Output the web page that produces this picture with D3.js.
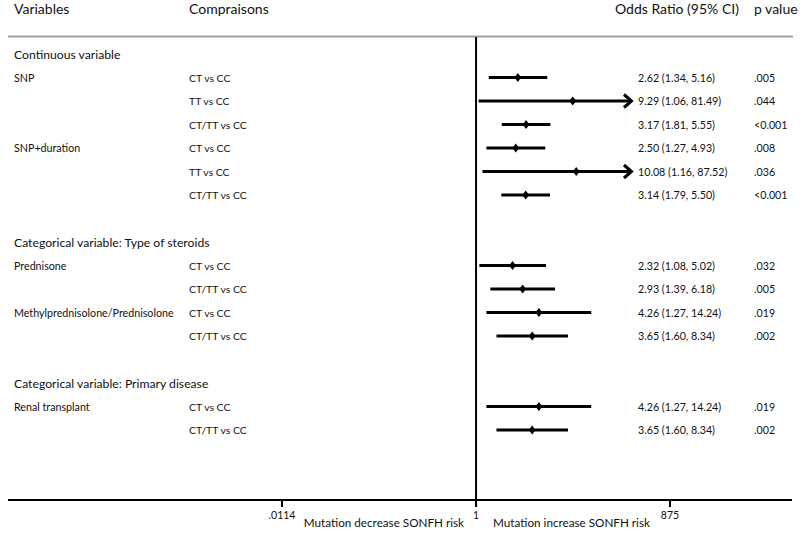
<!DOCTYPE html>
<html>
<head>
<meta charset="utf-8">
<script src="https://cdn.jsdelivr.net/npm/d3@7"></script>
<style>
  html, body { margin: 0; padding: 0; background: #fff; }
  svg { display: block; font-family: Lato, "Open Sans", sans-serif; }
</style>
</head>
<body>
<svg id="chart" width="800" height="533"></svg>
<script>
// ---------------- data ----------------
const sectionTitles = ["Continuous variable", "Categorical variable: Type of steroids", "Categorical variable: Primary disease"];
const sectionSizes = [6, 4, 2];
const variables = ["SNP", "", "", "SNP+duration", "", "", "Prednisone", "", "Methylprednisolone/Prednisolone", "", "Renal transplant", ""];
const comparisons = ["CT vs CC", "TT vs CC", "CT/TT vs CC", "CT vs CC", "TT vs CC", "CT/TT vs CC", "CT vs CC", "CT/TT vs CC", "CT vs CC", "CT/TT vs CC", "CT vs CC", "CT/TT vs CC"];
const oddsRatio = [2.62, 9.29, 3.17, 2.50, 10.08, 3.14, 2.32, 2.93, 4.26, 3.65, 4.26, 3.65];
const ciLow = [1.34, 1.06, 1.81, 1.27, 1.16, 1.79, 1.08, 1.39, 1.27, 1.60, 1.27, 1.60];
const ciHigh = [5.16, 81.49, 5.55, 4.93, 87.52, 5.50, 5.02, 6.18, 14.24, 8.34, 14.24, 8.34];
const pValues = [".005", ".044", "<0.001", ".008", ".036", "<0.001", ".032", ".005", ".019", ".002", ".019", ".002"];
const tickValues = [0.0114, 1, 87.52];
const tickLabels = [".0114", "1", "875"];
const headers = ["Variables", "Compraisons", "Odds Ratio (95% CI)", "p value"];
const axisNotes = ["Mutation decrease SONFH risk", "Mutation increase SONFH risk"];
const arrowCap = 36; // CI drawn as arrow beyond this value

// ---------------- layout ----------------
const svg = d3.select("#chart");
const x = d3.scaleLog().domain([0.0114, 87.52]).range([282, 670]);
const slotY = d3.scaleLinear().domain([0, 1]).range([54, 77.5]);
const axisY = 500;
const colX = { variable: 14, comparison: 189, or: 638, p: 754 };

// assign slots: section title, its rows, then one blank slot
const sectionSlots = [];
const rowSlots = [];
let slot = 0;
sectionSizes.forEach((n) => {
  sectionSlots.push(slot); slot++;
  for (let i = 0; i < n; i++) { rowSlots.push(slot); slot++; }
  slot++;
});

const rows = oddsRatio.map((d, i) => ({
  v: variables[i], c: comparisons[i], or: d, lo: ciLow[i], hi: ciHigh[i], p: pValues[i], y: slotY(rowSlots[i])
}));

// headers
const hx = [14, 189, 615, 754];
svg.selectAll("text.hdr").data(headers).join("text")
  .attr("class", "hdr").attr("x", (d, i) => hx[i]).attr("y", 14)
  .attr("font-size", 14).attr("fill", "#111").text(d => d);

// grey header rule
svg.append("line").attr("x1", 8).attr("x2", 793).attr("y1", 36.5).attr("y2", 36.5)
  .attr("stroke", "#a0a0a0").attr("stroke-width", 2);

// section titles
svg.selectAll("text.sec").data(sectionTitles).join("text")
  .attr("class", "sec").attr("x", colX.variable).attr("y", (d, i) => slotY(sectionSlots[i]) + 4.5)
  .attr("font-size", 12.2).attr("fill", "#111").text(d => d);

const fs = 10.7;
svg.selectAll("text.var").data(rows).join("text")
  .attr("class", "var").attr("x", colX.variable).attr("y", d => d.y + 4)
  .attr("font-size", fs).attr("fill", "#111").text(d => d.v);
svg.selectAll("text.cmp").data(rows).join("text")
  .attr("class", "cmp").attr("x", colX.comparison).attr("y", d => d.y + 4)
  .attr("font-size", 10.4).attr("fill", "#111").text(d => d.c);
svg.selectAll("text.ort").data(rows).join("text")
  .attr("class", "ort").attr("x", colX.or).attr("y", d => d.y + 4)
  .attr("font-size", fs).attr("fill", "#111")
  .text(d => `${d.or.toFixed(2)} (${d.lo.toFixed(2)}, ${d.hi.toFixed(2)})`);
svg.selectAll("text.pv").data(rows).join("text")
  .attr("class", "pv").attr("x", colX.p).attr("y", d => d.y + 4)
  .attr("font-size", fs).attr("fill", "#111").text(d => d.p);

// null line
svg.append("line").attr("x1", x(1)).attr("x2", x(1)).attr("y1", 37).attr("y2", axisY + 7)
  .attr("stroke", "#000").attr("stroke-width", 2);

// axis
const axisG = svg.append("g");
axisG.append("line").attr("x1", 8).attr("x2", 792).attr("y1", axisY).attr("y2", axisY)
  .attr("stroke", "#000").attr("stroke-width", 2);
axisG.selectAll("line.tk").data(tickValues).join("line")
  .attr("class", "tk").attr("x1", d => x(d)).attr("x2", d => x(d))
  .attr("y1", axisY).attr("y2", axisY + 7).attr("stroke", "#000").attr("stroke-width", 2);
axisG.selectAll("text.tl").data(tickValues).join("text")
  .attr("class", "tl").attr("x", d => x(d)).attr("y", axisY + 18.5)
  .attr("text-anchor", "middle").attr("font-size", 10.5).attr("fill", "#111")
  .text((d, i) => tickLabels[i]);
axisG.selectAll("text.note").data(axisNotes).join("text")
  .attr("class", "note")
  .attr("x", (d, i) => i === 0 ? x(1) - 12 : x(1) + 17)
  .attr("text-anchor", (d, i) => i === 0 ? "end" : "start")
  .attr("y", axisY + 27).attr("font-size", 11.7).attr("fill", "#111").text(d => d);

// CI lines
const ci = svg.append("g");
ci.selectAll("line.ci").data(rows).join("line")
  .attr("class", "ci")
  .attr("x1", d => x(d.lo)).attr("x2", d => x(Math.min(d.hi, arrowCap)) - (d.hi > arrowCap ? 1.5 : 0))
  .attr("y1", d => d.y).attr("y2", d => d.y)
  .attr("stroke", "#000").attr("stroke-width", 3);
// arrowheads
ci.selectAll("path.arr").data(rows.filter(d => d.hi > arrowCap)).join("path")
  .attr("class", "arr")
  .attr("d", d => { const t = x(arrowCap); return `M${t - 7.5},${d.y - 6.5}L${t},${d.y}L${t - 7.5},${d.y + 6.5}`; })
  .attr("fill", "none").attr("stroke", "#000").attr("stroke-width", 3)
  .attr("stroke-linejoin", "miter");
// diamonds
ci.selectAll("path.pt").data(rows).join("path")
  .attr("class", "pt")
  .attr("d", d => { const cx = x(d.or), cy = d.y; return `M${cx},${cy - 4.4}L${cx + 3.4},${cy}L${cx},${cy + 4.4}L${cx - 3.4},${cy}Z`; })
  .attr("fill", "#000");
</script>
</body>
</html>
